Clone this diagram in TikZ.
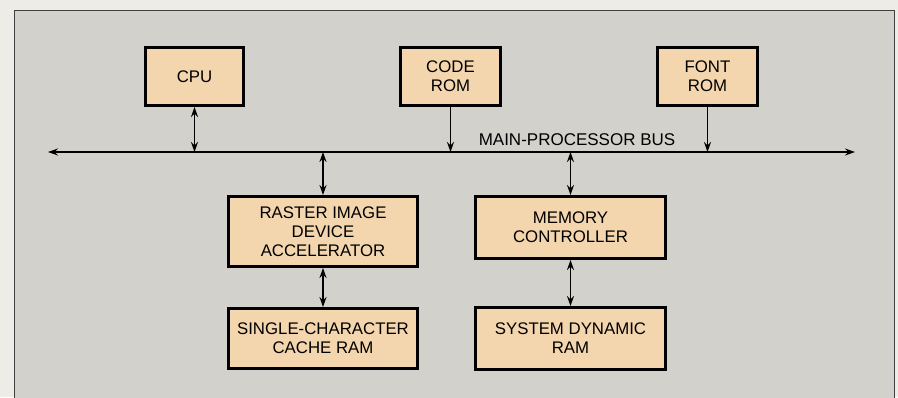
\documentclass[tikz,border=0pt]{standalone}
\usepackage{fontspec}
\setmainfont{Liberation Sans}
\usetikzlibrary{arrows.meta}
\definecolor{bgout}{HTML}{EEECE6}
\definecolor{panel}{HTML}{D3D1CB}
\definecolor{peach}{HTML}{F3D5AE}
\begin{document}
\begin{tikzpicture}[x=1pt,y=-1pt,
  blk/.style={draw=black, line width=3pt, fill=peach, align=center,
    font=\fontsize{16.8}{19}\selectfont, inner sep=0pt},
  link/.style={line width=1.6pt, -{Stealth[length=10pt,width=7pt]}},
  biarrow/.style={line width=1.6pt, {Stealth[length=10pt,width=7pt]}-{Stealth[length=10pt,width=7pt]}}]
\useasboundingbox (0,0) rectangle (898,397);
\fill[bgout] (0,0) rectangle (898,397);
\draw[fill=panel, draw=black!75, line width=0.9pt] (14,10) rectangle (894,405);
\node[blk, minimum width=98pt, minimum height=58pt] (cpu) at (194.5,76.5) {CPU};
\node[blk, minimum width=100pt, minimum height=58pt] (code) at (450.5,76.5) {CODE\\ROM};
\node[blk, minimum width=100pt, minimum height=58pt] (font) at (707.5,76.5) {FONT\\ROM};
\node[blk, minimum width=189pt, minimum height=70pt] (rida) at (323,231.5) {RASTER IMAGE\\DEVICE\\ACCELERATOR};
\node[blk, minimum width=190pt, minimum height=62pt] (mc) at (570.5,227.5) {MEMORY\\CONTROLLER};
\node[blk, minimum width=189pt, minimum height=60pt] (cache) at (323,338.5) {SINGLE-CHARACTER\\CACHE RAM};
\node[blk, minimum width=190pt, minimum height=62pt] (sdram) at (570.5,338.5) {SYSTEM DYNAMIC\\RAM};
\coordinate (busL) at (48,152);
\coordinate (busR) at (855,152);
\draw[biarrow] (busL) -- (busR);
\node[font=\fontsize{17}{19}\selectfont, inner sep=0pt] (buslabel) at (577,140) {MAIN-PROCESSOR BUS};
\draw[biarrow] (cpu.south) -- (cpu.south |- busL);
\draw[link] (code.south) -- (code.south |- busL);
\draw[link] (font.south) -- (font.south |- busL);
\draw[biarrow] (rida.north |- busL) -- (rida.north);
\draw[biarrow] (mc.north |- busL) -- (mc.north);
\draw[biarrow] (rida.south) -- (cache.north);
\draw[biarrow] (mc.south) -- (sdram.north);
\end{tikzpicture}
\end{document}
